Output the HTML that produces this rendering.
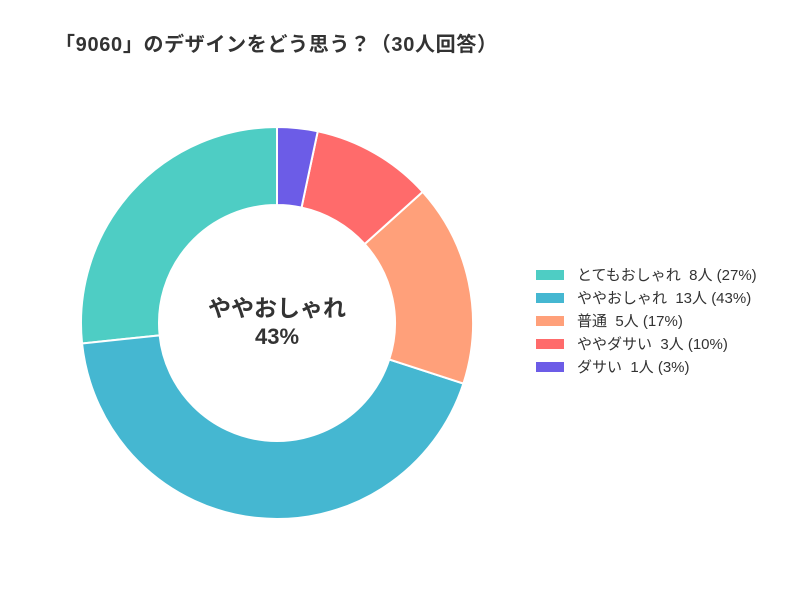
<!DOCTYPE html>
<html><head><meta charset="utf-8"><style>
body{margin:0;background:#fff;width:800px;height:600px;overflow:hidden;font-family:"Liberation Sans","Noto Sans CJK JP",sans-serif}
text{white-space:pre}
</style></head><body>
<svg width="800" height="600">
<text x="55" y="51" font-size="20" font-weight="bold" fill="#333" font-family="Liberation Sans, Noto Sans CJK JP, sans-serif" textLength="442">「9060」のデザインをどう思う？（30人回答）</text>
<g id="slices"></g>
<text x="277" y="316" text-anchor="middle" font-size="23" font-weight="bold" fill="#333" font-family="Liberation Sans, Noto Sans CJK JP, sans-serif">ややおしゃれ</text>
<text x="277" y="344" text-anchor="middle" font-size="22" font-weight="bold" fill="#333" font-family="Liberation Sans, Noto Sans CJK JP, sans-serif">43%</text>
<g id="legend"></g>
</svg>
<script>
const categories=["とてもおしゃれ","ややおしゃれ","普通","ややダサい","ダサい"];
const counts=[8,13,5,3,1];
const colors=["#4ECDC4","#45B7D1","#FFA07A","#FF6B6B","#6C5CE7"];
const ns="http://www.w3.org/2000/svg";
const cx=277,cy=323,R=196,r=118;
const total=counts.reduce((a,b)=>a+b,0);
const g=document.getElementById('slices');
let a0=-Math.PI/2;
function pt(rad,a){return [cx+rad*Math.cos(a),cy+rad*Math.sin(a)];}
counts.forEach((v,i)=>{
  const a1=a0-v/total*2*Math.PI;
  const large=(v/total>0.5)?1:0;
  const p1=pt(R,a0),p2=pt(R,a1),p3=pt(r,a1),p4=pt(r,a0);
  const p=document.createElementNS(ns,'path');
  p.setAttribute('d',`M${p1} A${R},${R} 0 ${large} 0 ${p2} L${p3} A${r},${r} 0 ${large} 1 ${p4} Z`);
  p.setAttribute('fill',colors[i]);p.setAttribute('stroke','#fff');p.setAttribute('stroke-width','2');
  
  
  g.appendChild(p);
  a0=a1;
});
const lg=document.getElementById('legend');
categories.forEach((c,i)=>{
  const y=275+i*23;
  const rc=document.createElementNS(ns,'rect');
  rc.setAttribute('x',536);rc.setAttribute('y',y-5);rc.setAttribute('width',28);rc.setAttribute('height',10);rc.setAttribute('fill',colors[i]);
  
  
  lg.appendChild(rc);
  const t=document.createElementNS(ns,'text');
  t.setAttribute('x',577);t.setAttribute('y',y+5);t.setAttribute('font-size','15');t.setAttribute('fill','#333');
  t.setAttribute('font-family','Liberation Sans, Noto Sans CJK JP, sans-serif');
  t.textContent=`${c}  ${counts[i]}人 (${Math.round(counts[i]/total*100)}%)`;
  
  
  lg.appendChild(t);
});
</script>
</body></html>
